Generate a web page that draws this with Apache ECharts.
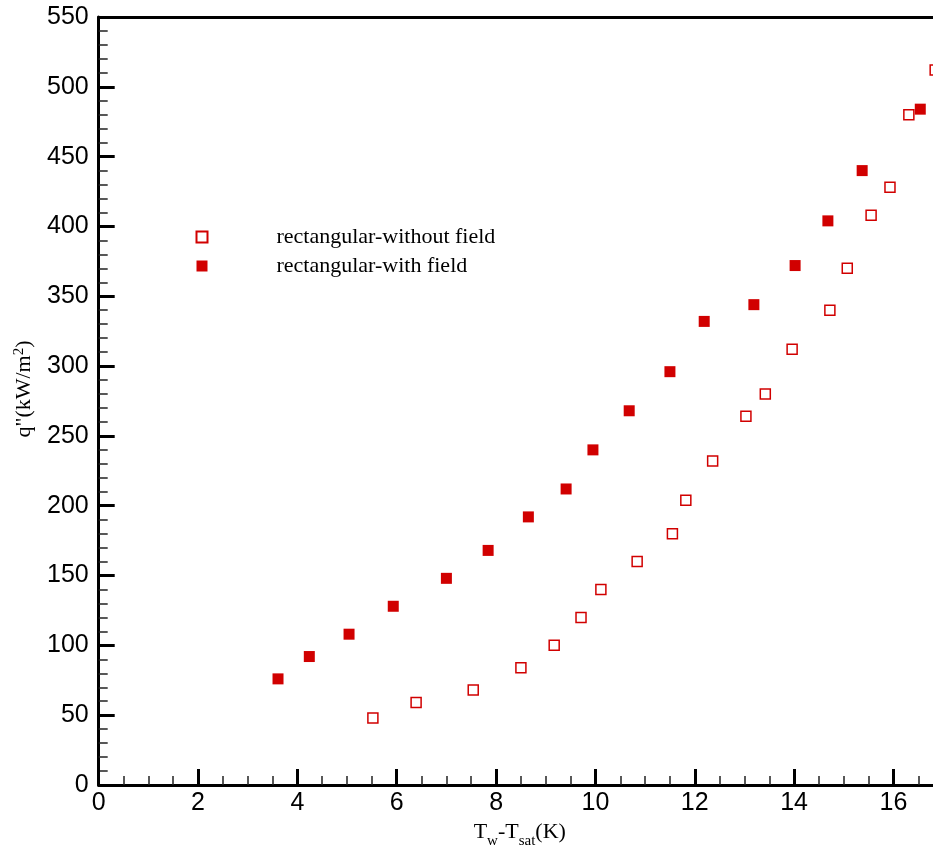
<!DOCTYPE html>
<html>
<head>
<meta charset="utf-8">
<script src="https://cdn.jsdelivr.net/npm/echarts@6/dist/echarts.min.js"></script>
<style>
html,body{margin:0;padding:0;background:#fff;}
#chart{width:933px;height:850px;}
</style>
</head>
<body>
<div id="chart"></div>
<script>
// Data
var withoutFieldX = [5.52, 6.39, 7.54, 8.50, 9.17, 9.71, 10.11, 10.84, 11.55, 11.82, 12.36, 13.03, 13.42, 13.96, 14.72, 15.07, 15.55, 15.93, 16.31, 16.84];
var withoutFieldY = [48, 59, 68, 84, 100, 120, 140, 160, 180, 204, 232, 264, 280, 312, 340, 370, 408, 428, 480, 512];
var withFieldX = [3.61, 4.24, 5.04, 5.93, 7.00, 7.84, 8.65, 9.41, 9.95, 10.68, 11.50, 12.19, 13.19, 14.02, 14.68, 15.37, 16.54];
var withFieldY = [76, 92, 108, 128, 148, 168, 192, 212, 240, 268, 296, 332, 344, 372, 404, 440, 484];
var seriesNames = ['rectangular-without field', 'rectangular-with field'];
var xTicks = [0, 2, 4, 6, 8, 10, 12, 14, 16];
var yTicks = [0, 50, 100, 150, 200, 250, 300, 350, 400, 450, 500, 550];

function pairs(xs, ys) { return xs.map(function (x, i) { return [x, ys[i]]; }); }

var RED = '#d10000';
var SANS = '"Liberation Sans", Arial, sans-serif';
var SERIF = '"Liberation Serif", "Times New Roman", serif';

var chart = echarts.init(document.getElementById('chart'), null, {renderer: 'canvas'});
chart.setOption({
  animation: false,
  backgroundColor: '#fff',
  grid: {left: 98.7, right: -59.8, top: 17, bottom: 65, containLabel: false, outerBoundsMode: 'none'},
  legend: {
    orient: 'vertical',
    left: 190.5,
    top: 221,
    itemWidth: 11,
    itemHeight: 11,
    itemGap: 7,
    data: seriesNames,
    textStyle: {fontFamily: SERIF, fontSize: 22, lineHeight: 22, color: '#000', padding: [0, 0, 0, 64]}
  },
  xAxis: [{
    type: 'value', position: 'bottom',
    min: xTicks[0], max: 18, interval: 2,
    name: '{a|T}{sub|w}{a|-T}{sub|sat}{a|(K)}',
    nameLocation: 'middle', nameGap: 30,
    nameTextStyle: {
      padding: [0, 52, 0, 0],
      rich: {
        a: {fontFamily: SERIF, fontSize: 22, lineHeight: 24, color: '#000', verticalAlign: 'top'},
        sub: {fontFamily: SERIF, fontSize: 15, lineHeight: 16, color: '#000', verticalAlign: 'top', padding: [13, 0, 0, 0]}
      }
    },
    axisLine: {show: true, lineStyle: {color: '#000', width: 3}},
    axisTick: {show: true, inside: true, length: 16, lineStyle: {color: '#000', width: 3}},
    minorTick: {show: true, splitNumber: 4, length: 9, lineStyle: {color: '#222', width: 1.5}},
    axisLabel: {fontFamily: SANS, fontSize: 25, color: '#000', margin: 6},
    splitLine: {show: false}
  }, {
    type: 'value', position: 'top',
    min: xTicks[0], max: 18,
    axisLine: {show: true, lineStyle: {color: '#000', width: 3}},
    axisTick: {show: false}, axisLabel: {show: false}, splitLine: {show: false}
  }],
  yAxis: {
    type: 'value',
    min: yTicks[0], max: yTicks[yTicks.length - 1], interval: 50,
    name: '{a|q"(kW/m}{sup|2}{a|)}',
    nameLocation: 'middle', nameGap: 47, nameRotate: 90,
    nameTextStyle: {
      padding: [0, 0, 0, 24],
      rich: {
        a: {fontFamily: SERIF, fontSize: 22, lineHeight: 24, color: '#000', verticalAlign: 'bottom'},
        sup: {fontFamily: SERIF, fontSize: 15, lineHeight: 16, color: '#000', verticalAlign: 'top', padding: [0, 0, 10, 0]}
      }
    },
    axisLine: {show: true, lineStyle: {color: '#000', width: 3}},
    axisTick: {show: true, inside: true, length: 16, lineStyle: {color: '#000', width: 3}},
    minorTick: {show: true, splitNumber: 5, length: 9, lineStyle: {color: '#222', width: 1.5}},
    axisLabel: {fontFamily: SANS, fontSize: 25, color: '#000', margin: 10},
    splitLine: {show: false}
  },
  series: [{
    name: seriesNames[0],
    type: 'scatter',
    symbol: 'rect',
    symbolSize: 10,
    clip: false,
    itemStyle: {color: '#fff', borderColor: RED, borderWidth: 1.5, opacity: 1},
    data: pairs(withoutFieldX, withoutFieldY)
  }, {
    name: seriesNames[1],
    type: 'scatter',
    symbol: 'rect',
    symbolSize: 11,
    clip: false,
    itemStyle: {color: RED, opacity: 1},
    data: pairs(withFieldX, withFieldY)
  }]
});
</script>
</body>
</html>
